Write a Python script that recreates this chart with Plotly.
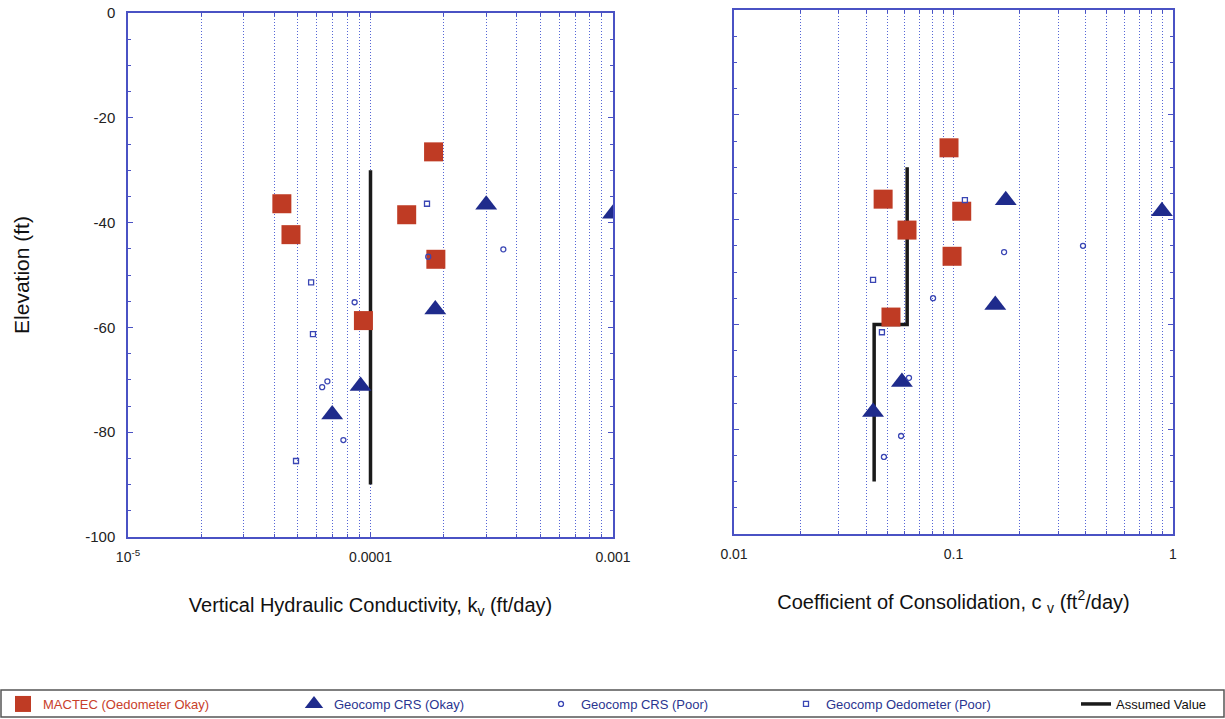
import plotly.graph_objects as go

# ---------------- data ----------------
# Left panel: vertical hydraulic conductivity kv (ft/day) vs elevation (ft)
kv_mactec = [4.31e-5, 4.70e-5, 1.41e-4, 1.82e-4, 1.86e-4, 9.35e-5]
el_kv_mactec = [-36.4, -42.3, -38.5, -26.5, -47.0, -58.7]

kv_crs_ok = [3.0e-4, 1.0e-3, 9.1e-5, 6.95e-5, 1.85e-4]
el_kv_crs_ok = [-36.6, -38.3, -71.2, -76.6, -56.6]

kv_crs_poor = [3.53e-4, 1.73e-4, 8.6e-5, 6.64e-5, 6.32e-5, 7.73e-5]
el_kv_crs_poor = [-45.1, -46.5, -55.2, -70.3, -71.4, -81.5]

kv_oed_poor = [5.69e-5, 5.79e-5, 1.71e-4, 4.93e-5]
el_kv_oed_poor = [-51.4, -61.3, -36.4, -85.5]

kv_assumed = [1.0e-4, 1.0e-4]
el_kv_assumed = [-30, -90]

# Right panel: coefficient of consolidation cv (ft2/day) vs elevation (ft)
cv_mactec = [0.0954, 0.0478, 0.109, 0.0614, 0.0985, 0.0519]
el_cv_mactec = [-26.3, -36.1, -38.4, -42.0, -47.0, -58.6]

cv_crs_ok = [0.173, 0.89, 0.155, 0.0582, 0.043]
el_cv_crs_ok = [-36.3, -38.4, -56.3, -71.0, -76.7]

cv_crs_poor = [0.170, 0.389, 0.0807, 0.0627, 0.0577, 0.0482]
el_cv_crs_poor = [-46.2, -45.0, -55.0, -70.2, -81.3, -85.3]

cv_oed_poor = [0.1127, 0.043, 0.0472]
el_cv_oed_poor = [-36.3, -51.5, -61.5]

cv_assumed = [0.0615, 0.0615, 0.0435, 0.0435]
el_cv_assumed = [-30, -60, -60, -90]

# ticks
kv_tickvals = [1e-5, 1e-4, 1e-3]
kv_ticktext = ["10<sup>-5</sup>", "0.0001", "0.001"]
cv_tickvals = [0.01, 0.1, 1]
cv_ticktext = ["0.01", "0.1", "1"]
el_tickvals = [0, -20, -40, -60, -80, -100]
el_ticktext = ["0", "-20", "-40", "-60", "-80", "-100"]

# ---------------- styles ----------------
RED = "#bf3b24"
NAVY = "#1f2b8c"
BLUE = "#3a46b4"
AXIS = "#4a52c4"
GRID = "#5566d6"
FONT = "Liberation Sans, Arial, sans-serif"

names = {
    "mactec": "<span style='color:#c8402a'>MACTEC (Oedometer Okay)</span>",
    "crs_ok": "<span style='color:#2a3590'>Geocomp CRS (Okay)</span>",
    "crs_poor": "<span style='color:#2a3590'>Geocomp CRS (Poor)</span>",
    "oed_poor": "<span style='color:#2a3590'>Geocomp Oedometer (Poor)</span>",
    "assumed": "<span style='color:#111111'>Assumed Value</span>",
}
legend_of = {"mactec": "legend", "crs_ok": "legend2", "crs_poor": "legend3",
             "oed_poor": "legend4", "assumed": "legend5"}

fig = go.Figure()

def add_panel(xa, ya, assumed, mactec, crs_ok, crs_poor, oed_poor, show):
    fig.add_trace(go.Scatter(x=assumed[0], y=assumed[1], mode="lines",
                             line=dict(color="#1a1a1a", width=3.5),
                             name=names["assumed"], legend=legend_of["assumed"],
                             legendgroup="assumed", showlegend=show,
                             xaxis=xa, yaxis=ya))
    fig.add_trace(go.Scatter(x=mactec[0], y=mactec[1], mode="markers",
                             marker=dict(symbol="square", size=19, color=RED),
                             name=names["mactec"], legend=legend_of["mactec"],
                             legendgroup="mactec", showlegend=show,
                             xaxis=xa, yaxis=ya))
    fig.add_trace(go.Scatter(x=crs_ok[0], y=crs_ok[1], mode="markers",
                             marker=dict(symbol="triangle-up", size=19, color=NAVY),
                             name=names["crs_ok"], legend=legend_of["crs_ok"],
                             legendgroup="crs_ok", showlegend=show,
                             xaxis=xa, yaxis=ya))
    fig.add_trace(go.Scatter(x=crs_poor[0], y=crs_poor[1], mode="markers",
                             marker=dict(symbol="circle-open", size=5, color=BLUE,
                                         line=dict(width=1.3, color=BLUE)),
                             name=names["crs_poor"], legend=legend_of["crs_poor"],
                             legendgroup="crs_poor", showlegend=show,
                             xaxis=xa, yaxis=ya))
    fig.add_trace(go.Scatter(x=oed_poor[0], y=oed_poor[1], mode="markers",
                             marker=dict(symbol="square-open", size=5, color=BLUE,
                                         line=dict(width=1.3, color=BLUE)),
                             name=names["oed_poor"], legend=legend_of["oed_poor"],
                             legendgroup="oed_poor", showlegend=show,
                             xaxis=xa, yaxis=ya))

add_panel("x", "y", (kv_assumed, el_kv_assumed), (kv_mactec, el_kv_mactec),
          (kv_crs_ok, el_kv_crs_ok), (kv_crs_poor, el_kv_crs_poor),
          (kv_oed_poor, el_kv_oed_poor), True)
add_panel("x2", "y2", (cv_assumed, el_cv_assumed), (cv_mactec, el_cv_mactec),
          (cv_crs_ok, el_cv_crs_ok), (cv_crs_poor, el_cv_crs_poor),
          (cv_oed_poor, el_cv_oed_poor), False)

def minor_vals(lo_exp, hi_exp):
    vals = []
    for e in range(lo_exp, hi_exp):
        for d in range(2, 10):
            vals.append(d * 10 ** e)
    return vals

W, H = 1225, 719
DOT = "1px,2px"

def xaxis_cfg(domain, anchor, rng, tv, tt, title, minor):
    return dict(
        type="log", domain=domain, anchor=anchor, range=rng, tickmode="array",
        tickvals=tv, ticktext=tt, ticks="inside", ticklen=5, tickcolor=AXIS,
        showline=True, linecolor=AXIS, linewidth=1.5, mirror="allticks",
        showgrid=True, gridcolor=GRID, griddash=DOT, gridwidth=1,
        zeroline=False, automargin=False,
        tickfont=dict(size=14, color="#222222", family=FONT),
        ticklabelstandoff=6,
        minor=dict(tickmode="array", tickvals=minor, ticks="inside", ticklen=3,
                   tickcolor=AXIS, showgrid=True, gridcolor=GRID,
                   griddash=DOT, gridwidth=1),
        title=dict(text=title, font=dict(size=20, color="#111111", family=FONT),
                   standoff=34),
    )

def yaxis_cfg(domain, anchor, labels, title):
    return dict(
        domain=domain, anchor=anchor, range=[-100, 0], tickmode="array",
        tickvals=el_tickvals, ticktext=el_ticktext, showticklabels=labels,
        ticks="inside", ticklen=5, tickcolor=AXIS,
        showline=True, linecolor=AXIS, linewidth=1.5, mirror="allticks",
        showgrid=False, zeroline=False, automargin=False,
        tickfont=dict(size=15, color="#222222", family=FONT),
        ticklabelstandoff=8,
        minor=dict(dtick=5, tick0=0, ticks="inside", ticklen=3, tickcolor=AXIS,
                   showgrid=False),
        title=dict(text=title, font=dict(size=21, color="#111111", family=FONT),
                   standoff=50) if title else None,
    )

fig.update_layout(
    width=W, height=H,
    margin=dict(l=0, r=0, t=0, b=0, autoexpand=False),
    paper_bgcolor="white", plot_bgcolor="white",
    font=dict(family=FONT, size=13),
    xaxis=xaxis_cfg([128 / W, 613 / W], "y", [-5, -3], kv_tickvals, kv_ticktext,
                    "Vertical Hydraulic Conductivity, k<sub>v</sub> (ft/day)",
                    minor_vals(-5, -3)),
    xaxis2=xaxis_cfg([734 / W, 1173 / W], "y2", [-2, 0], cv_tickvals, cv_ticktext,
                     "Coefficient of Consolidation, c <sub>v</sub> (ft<sup>2</sup>/day)",
                     minor_vals(-2, 0)),
    yaxis=yaxis_cfg([1 - 537 / H, 1 - 13 / H], "x", True, "Elevation (ft)"),
    yaxis2=yaxis_cfg([1 - 534 / H, 1 - 10 / H], "x2", False, None),
)

leg_common = dict(orientation="h", yanchor="middle", y=1 - 704 / H,
                  xanchor="left", bgcolor="rgba(0,0,0,0)", borderwidth=0,
                  font=dict(size=13, family=FONT), itemsizing="trace")
fig.update_layout(
    legend=dict(x=3 / W, **leg_common),
    legend2=dict(x=294 / W, **leg_common),
    legend3=dict(x=541 / W, **leg_common),
    legend4=dict(x=786 / W, **leg_common),
    legend5=dict(x=1076 / W, **leg_common),
)

# legend frame
fig.add_shape(type="rect", xref="paper", yref="paper",
              x0=1 / W, x1=1 - 1 / W, y0=1 - 717 / H, y1=1 - 690 / H,
              line=dict(color="#555555", width=1.5), fillcolor="rgba(0,0,0,0)",
              layer="below")

fig.write_html("out.html")
